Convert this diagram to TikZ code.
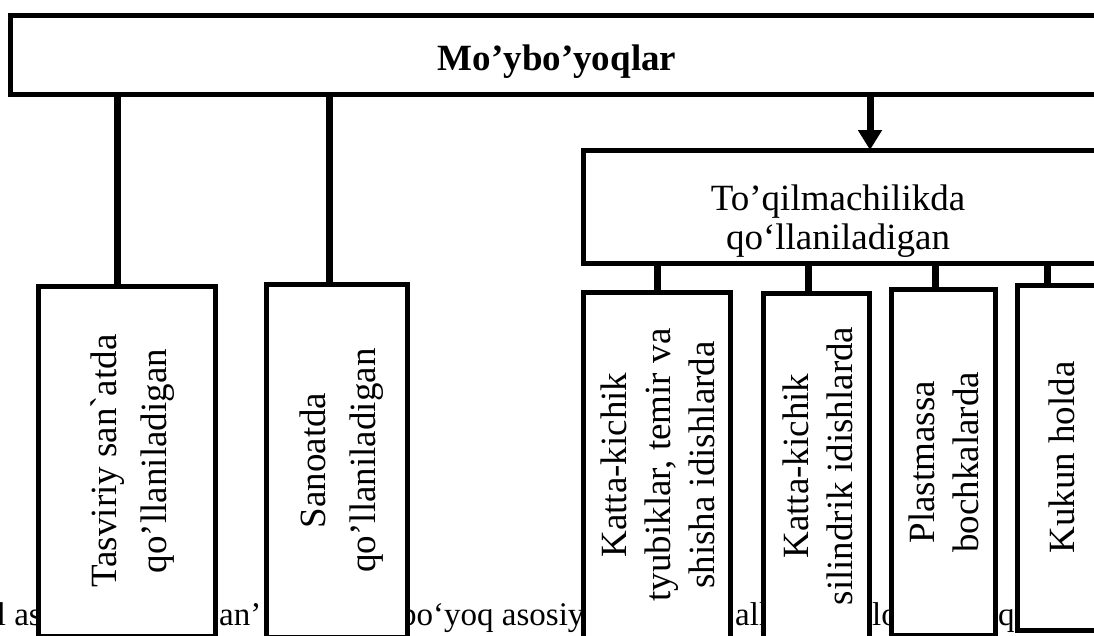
\documentclass[tikz,border=0pt]{standalone}
\usepackage{fontspec}
\setmainfont{Liberation Serif}
\usepackage{graphicx}
\usetikzlibrary{arrows.meta}

\tikzset{
  box/.style={draw, line width=5pt, fill=white, inner sep=0pt, outer sep=0pt},
  boxtxt/.style={inner sep=0pt, font=\fontsize{37}{39}\selectfont, align=center},
  vtxt/.style={inner sep=0pt, font=\fontsize{37}{44}\selectfont},
  vtxtwide/.style={inner sep=0pt, font=\fontsize{37}{50}\selectfont},
  link/.style={line width=7pt},
  captxt/.style={inner sep=0pt, font=\fontsize{33}{38}\selectfont},
}
\newcommand\vtext[1]{\rotatebox{90}{\begin{tabular}{@{}c@{}}#1\end{tabular}}}

\begin{document}
\begin{tikzpicture}[x=1pt, y=-1pt]

  \newcommand\YCAP{625}

  \useasboundingbox (0,0) rectangle (1094,635);
  \clip (0,0) rectangle (1094,635);
  \fill[white] (0,0) rectangle (1094,635);

  % caption line, mostly hidden behind the boxes
  \node[captxt, anchor=base east] (cap1) at (42,\YCAP) {l as};
  \node[captxt, anchor=base west] (cap2) at (219,\YCAP) {an’};
  \node[captxt, anchor=base west] (cap3) at (400,\YCAP) {bo‘yoq asosiy};
  \node[captxt, anchor=base west] (cap4) at (735,\YCAP) {all};
  \node[captxt, anchor=base west] (cap5) at (872,\YCAP) {lo};
  \node[captxt, anchor=base west] (cap6) at (998,\YCAP) {q};

  \node[box, minimum width=1087pt, minimum height=79pt] (main) at (553.5,54.5) {};
  \node[boxtxt, font=\fontsize{37}{39}\selectfont\bfseries, anchor=base] (maintxt)
    at (557,70) {Mo’ybo’yoqlar};

  \node[box, minimum width=514pt, minimum height=113pt] (toqil) at (840,206.5) {};
  \node[boxtxt] (toqiltxt) at (838,221) {To’qilmachilikda\\qo‘llaniladigan};

  % vertical boxes
  \node[box, minimum width=176.5pt, minimum height=350pt] (tas) at (126.75,461) {};
  \node[vtxtwide] (tastxt) at ([xshift=5pt]tas.center)
    {\vtext{Tasviriy san\textasciigrave{}atda\\qo’llaniladigan}};

  \node[box, minimum width=140.5pt, minimum height=353pt] (sanoat) at (336.75,460.5) {};
  \node[vtxtwide] (sanoattxt) at ([xshift=4pt]sanoat.center)
    {\vtext{Sanoatda\\qo’llaniladigan}};

  \node[box, minimum width=147pt, minimum height=346pt] (tyubik) at (657,465) {};
  \node[vtxt] (tyubiktxt) at ([xshift=5pt]tyubik.center)
    {\vtext{Katta-kichik\\tyubiklar, temir va\\shisha idishlarda}};

  \node[box, minimum width=105.5pt, minimum height=346pt] (silindr) at (816.25,466) {};
  \node[vtxt] (silindrtxt) at ([xshift=5pt]silindr.center)
    {\vtext{Katta-kichik\\silindrik idishlarda}};

  \node[box, minimum width=104pt, minimum height=346.5pt] (plast) at (943,462.25) {};
  \node[vtxt] (plasttxt) at ([xshift=5pt]plast.center)
    {\vtext{Plastmassa\\bochkalarda}};

  \node[box, minimum width=90pt, minimum height=345pt] (kukun) at (1062,457.5) {};
  \node[vtxt] (kukuntxt) at ([xshift=4pt]kukun.center) {\vtext{Kukun holda}};

  \coordinate (c1) at (117,0);
  \coordinate (c2) at (329,0);
  \coordinate (c3) at (870,0);
  \coordinate (c4) at (657,0);
  \coordinate (c5) at (808,0);
  \coordinate (c6) at (935,0);
  \coordinate (c7) at (1047,0);

  \draw[link] (c1 |- main.south) -- (c1 |- tas.north);
  \draw[link] (c2 |- main.south) -- (c2 |- sanoat.north);
  \draw[link, -{Triangle[width=23pt,length=20pt]}] (c3 |- main.south) -- (c3 |- toqil.north);

  \draw[link] (c4 |- toqil.south) -- (c4 |- tyubik.north);
  \draw[link] (c5 |- toqil.south) -- (c5 |- silindr.north);
  \draw[link] (c6 |- toqil.south) -- (c6 |- plast.north);
  \draw[link] (c7 |- toqil.south) -- (c7 |- kukun.north);

\end{tikzpicture}
\end{document}
